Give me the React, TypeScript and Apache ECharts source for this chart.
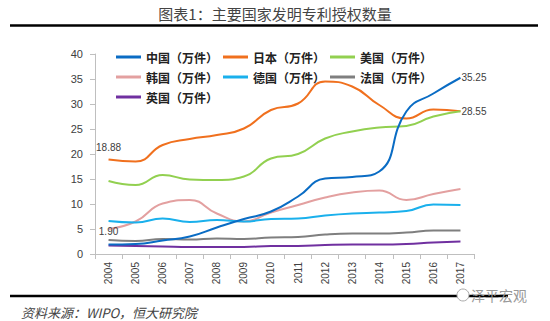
import React, { useEffect, useRef } from "react";
import * as echarts from "echarts";

const years = ["2004","2005","2006","2007","2008","2009","2010","2011","2012","2013","2014","2015","2016","2017"];
const china = [1.90, 2.0, 2.7, 3.5, 5.3, 7.0, 8.5, 11.5, 15.1, 15.4, 16.5, 28.5, 32.1, 35.25];
const japan = [18.88, 18.5, 21.8, 23.0, 23.8, 25.1, 28.8, 30.1, 34.5, 33.5, 29.8, 27.1, 28.9, 28.55];
const usa = [14.6, 13.8, 15.8, 14.9, 14.8, 15.5, 19.1, 20.0, 23.1, 24.5, 25.3, 25.6, 27.5, 28.55];
const korea = [5.0, 6.5, 10.1, 10.8, 8.1, 6.5, 8.3, 9.8, 11.3, 12.3, 12.7, 10.8, 12.0, 13.0];
const germany = [6.6, 6.3, 7.1, 6.4, 6.8, 6.5, 7.0, 7.1, 7.7, 8.1, 8.3, 8.6, 9.9, 9.8];
const france = [2.8, 2.6, 3.0, 2.9, 3.1, 3.0, 3.3, 3.4, 3.9, 4.1, 4.1, 4.3, 4.7, 4.7];
const uk = [1.7, 1.6, 1.5, 1.4, 1.4, 1.4, 1.6, 1.6, 1.8, 1.9, 1.9, 2.0, 2.3, 2.5];

const names = ["中国（万件）","日本（万件）","美国（万件）","韩国（万件）","德国（万件）","法国（万件）","英国（万件）"];
const colors = ["#0a6cc4","#f0701e","#92d050","#e3a0a0","#1ab0ec","#7f7f7f","#7030a0"];
const title = "图表1：主要国家发明专利授权数量";
const source = "资料来源：WIPO，恒大研究院";
const watermark = "泽平宏观";

const FONT = "'Noto Sans CJK SC', 'Noto Sans', sans-serif";

export default function App() {
  const ref = useRef<HTMLDivElement>(null);
  useEffect(() => {
    document.body.style.margin = "0";
    const chart = echarts.init(ref.current!, null, { renderer: "svg" });
    const datasets = [china, japan, usa, korea, germany, france, uk];
    const series: any[] = datasets.map((d, i) => ({
      name: names[i],
      type: "line",
      smooth: true,
      symbol: "circle",
      symbolSize: 0,
      showSymbol: true,
      data: d,
      lineStyle: { width: 2, color: colors[i] },
      itemStyle: { color: colors[i] },
      z: i === 0 ? 5 : 3,
    }));
    const lbl = (pos: string, dist: number) => ({
      show: true, position: pos, distance: dist, fontSize: 10, color: "#404040", fontFamily: "Arial",
      formatter: (p: any) => Number(p.value).toFixed(2),
    });
    series[0].data = china.map((v, i) =>
      i === 0 ? { value: v, label: lbl("top", 8) } : i === china.length - 1 ? { value: v, label: lbl("right", 1) } : v);
    series[1].data = japan.map((v, i) =>
      i === 0 ? { value: v, label: lbl("top", 7) } : i === japan.length - 1 ? { value: v, label: lbl("right", 1) } : v);

    const legendCommon = {
      itemWidth: 25, itemHeight: 3, itemGap: 5, icon: "rect",
      textStyle: { fontSize: 12, color: "#222", fontFamily: FONT, fontWeight: "bold" },
      orient: "horizontal",
    };
    chart.setOption({
      animation: false,
      backgroundColor: "#fff",
      grid: { left: 95, right: 76, top: 54, bottom: 67, containLabel: false },
      legend: [
        { ...legendCommon, data: names.slice(0, 3), left: 111, top: 46 },
        { ...legendCommon, data: names.slice(3, 6), left: 111, top: 66 },
        { ...legendCommon, data: names.slice(6), left: 111, top: 86 },
      ],
      xAxis: {
        type: "category",
        data: years,
        boundaryGap: true,
        axisLine: { lineStyle: { color: "#bfbfbf" } },
        axisTick: { show: true, interval: 0, lineStyle: { color: "#bfbfbf" }, length: 5 },
        axisLabel: { rotate: 90, interval: 0, fontSize: 10, color: "#404040", fontFamily: "Arial", margin: 8 },
      },
      yAxis: {
        type: "value",
        min: 0, max: 40, interval: 5,
        axisLine: { show: true, lineStyle: { color: "#bfbfbf" } },
        axisTick: { show: true, lineStyle: { color: "#bfbfbf" }, length: 5 },
        splitLine: { show: false },
        axisLabel: { fontSize: 11, color: "#404040", fontFamily: "Arial", margin: 12 },
      },
      series,
      graphic: [
        { type: "text", left: "center", top: 6, style: { text: title, fontSize: 15, fill: "#444", fontFamily: FONT } },
        { type: "line", shape: { x1: 10, y1: 25.5, x2: 538, y2: 25.5 }, style: { stroke: "#000", lineWidth: 2.5 } },
        { type: "line", shape: { x1: 10, y1: 296, x2: 508, y2: 296 }, style: { stroke: "#000", lineWidth: 2.5 } },
        { type: "text", x: 21, y: 306, style: { text: source, fontSize: 13, fill: "#444", fontFamily: FONT, fontStyle: "italic" } },
        { type: "circle", shape: { cx: 463, cy: 295, r: 6 }, style: { fill: "#fff", stroke: "#aaa", lineWidth: 1 } },
        { type: "text", x: 471, y: 288, style: { text: watermark, fontSize: 14, fill: "#999", fontFamily: FONT } },
      ],
    });
    return () => chart.dispose();
  }, []);
  return <div ref={ref} style={{ width: 550, height: 321 }} />;
}
